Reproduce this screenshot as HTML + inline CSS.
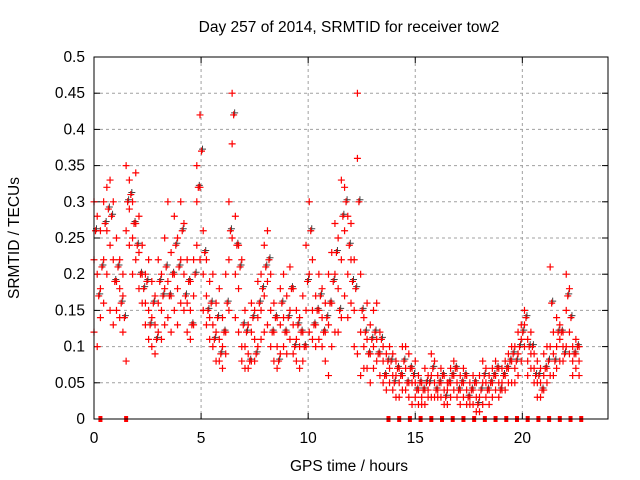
<!DOCTYPE html>
<html><head><meta charset="utf-8"><style>
body{margin:0;background:#fff;}
svg{display:block;font-family:"Liberation Sans",sans-serif;}
</style></head><body>
<svg id="chart" width="640" height="480"></svg>
<script>
const hours=[0,0.15,0.3,0.45,0.6,0.75,0.9,1.05,1.2,1.35,1.5,1.65,1.8,1.95,2.1,2.25,2.4,2.55,2.7,2.85,3,3.15,3.3,3.45,3.6,3.75,3.9,4.05,4.2,4.35,4.5,4.65,4.8,4.95,5.1,5.25,5.4,5.55,5.7,5.85,6,6.15,6.3,6.45,6.6,6.75,6.9,7.05,7.2,7.35,7.5,7.65,7.8,7.95,8.1,8.25,8.4,8.55,8.7,8.85,9,9.15,9.3,9.45,9.6,9.75,9.9,10.05,10.2,10.35,10.5,10.65,10.8,10.95,11.1,11.25,11.4,11.55,11.7,11.85,12,12.15,12.3,12.45,12.6,12.75,12.9,13.05,13.2,13.35,13.5,13.65,13.8,13.95,14.1,14.25,14.4,14.55,14.7,14.85,15,15.15,15.3,15.45,15.6,15.75,15.9,16.05,16.2,16.35,16.5,16.65,16.8,16.95,17.1,17.25,17.4,17.55,17.7,17.85,18,18.15,18.3,18.45,18.6,18.75,18.9,19.05,19.2,19.35,19.5,19.65,19.8,19.95,20.1,20.25,20.4,20.55,20.7,20.85,21,21.15,21.3,21.45,21.6,21.75,21.9,22.05,22.2,22.35,22.5,22.65];
const hoursB=[0.07,0.22,0.37,0.52,0.67,0.82,0.97,1.12,1.27,1.42,1.57,1.72,1.87,2.02,2.17,2.32,2.47,2.62,2.77,2.92,3.07,3.22,3.37,3.52,3.67,3.82,3.97,4.12,4.27,4.42,4.57,4.72,4.87,5.02,5.17,5.32,5.47,5.62,5.77,5.92,6.07,6.22,6.37,6.52,6.67,6.82,6.97,7.12,7.27,7.42,7.57,7.72,7.87,8.02,8.17,8.32,8.47,8.62,8.77,8.92,9.07,9.22,9.37,9.52,9.67,9.82,9.97,10.12,10.27,10.42,10.57,10.72,10.87,11.02,11.17,11.32,11.47,11.62,11.77,11.92,12.07,12.22,12.37,12.52,12.67,12.82,12.97,13.12,13.27,13.42,13.57,13.72,13.87,14.02,14.17,14.32,14.47,14.62,14.77,14.92,15.07,15.22,15.37,15.52,15.67,15.82,15.97,16.12,16.27,16.42,16.57,16.72,16.87,17.02,17.17,17.32,17.47,17.62,17.77,17.92,18.07,18.22,18.37,18.52,18.67,18.82,18.97,19.12,19.27,19.42,19.57,19.72,19.87,20.02,20.17,20.32,20.47,20.62,20.77,20.92,21.07,21.22,21.37,21.52,21.67,21.82,21.97,22.12,22.27,22.42,22.57];
const tecHigh=[0.3,0.28,0.26,0.3,0.32,0.33,0.3,0.25,0.22,0.2,0.35,0.33,0.3,0.34,0.28,0.24,0.2,0.22,0.19,0.17,0.22,0.2,0.25,0.3,0.23,0.28,0.25,0.3,0.27,0.22,0.19,0.22,0.35,0.42,0.26,0.22,0.19,0.2,0.16,0.18,0.14,0.2,0.3,0.45,0.28,0.24,0.22,0.15,0.13,0.16,0.15,0.19,0.2,0.24,0.26,0.2,0.16,0.14,0.18,0.2,0.17,0.21,0.18,0.15,0.14,0.17,0.24,0.3,0.22,0.17,0.2,0.18,0.16,0.2,0.23,0.27,0.25,0.33,0.32,0.28,0.27,0.22,0.45,0.2,0.14,0.16,0.13,0.15,0.16,0.12,0.1,0.09,0.1,0.09,0.08,0.07,0.1,0.1,0.09,0.07,0.08,0.06,0.05,0.07,0.06,0.09,0.08,0.06,0.07,0.06,0.05,0.07,0.08,0.07,0.06,0.07,0.06,0.05,0.06,0.05,0.06,0.08,0.07,0.06,0.07,0.08,0.07,0.07,0.08,0.09,0.1,0.1,0.12,0.13,0.15,0.11,0.12,0.09,0.08,0.07,0.09,0.1,0.21,0.12,0.14,0.13,0.12,0.2,0.18,0.1,0.11,0.1];
const tecMid=[0.22,0.2,0.18,0.22,0.26,0.24,0.22,0.19,0.18,0.17,0.26,0.29,0.25,0.27,0.23,0.2,0.16,0.15,0.14,0.13,0.16,0.15,0.18,0.19,0.17,0.2,0.18,0.22,0.2,0.16,0.15,0.17,0.3,0.32,0.2,0.17,0.14,0.13,0.12,0.11,0.1,0.12,0.22,0.38,0.2,0.18,0.1,0.1,0.09,0.12,0.11,0.14,0.15,0.17,0.19,0.15,0.12,0.1,0.13,0.14,0.12,0.15,0.13,0.11,0.1,0.12,0.15,0.2,0.15,0.13,0.15,0.14,0.12,0.13,0.16,0.2,0.18,0.22,0.26,0.2,0.22,0.15,0.36,0.12,0.1,0.11,0.09,0.1,0.11,0.09,0.08,0.06,0.07,0.06,0.06,0.05,0.06,0.07,0.05,0.05,0.05,0.04,0.03,0.04,0.04,0.06,0.05,0.04,0.05,0.04,0.04,0.05,0.06,0.05,0.04,0.05,0.04,0.03,0.04,0.03,0.03,0.05,0.05,0.04,0.05,0.06,0.05,0.05,0.06,0.07,0.08,0.07,0.09,0.11,0.13,0.08,0.09,0.07,0.05,0.05,0.06,0.07,0.1,0.09,0.1,0.11,0.1,0.15,0.12,0.08,0.09,0.08];
const tecLow=[0.12,0.1,0.14,0.16,0.2,0.15,0.13,0.15,0.14,0.12,0.08,0.24,0.2,0.22,0.18,0.16,0.13,0.11,0.1,0.09,0.12,0.11,0.13,0.14,0.12,0.15,0.13,0.16,0.15,0.12,0.11,0.13,0.24,0.22,0.15,0.13,0.11,0.1,0.08,0.08,0.07,0.09,0.15,0.25,0.14,0.12,0.08,0.07,0.07,0.08,0.08,0.1,0.11,0.12,0.13,0.1,0.08,0.07,0.09,0.1,0.09,0.11,0.09,0.08,0.07,0.08,0.1,0.12,0.11,0.1,0.11,0.1,0.08,0.06,0.1,0.12,0.12,0.14,0.17,0.14,0.16,0.1,0.09,0.06,0.07,0.07,0.05,0.07,0.08,0.06,0.05,0.04,0.05,0.04,0.03,0.03,0.04,0.04,0.03,0.02,0.03,0.02,0.02,0.02,0.03,0.03,0.03,0.03,0.03,0.02,0.02,0.03,0.04,0.03,0.02,0.03,0.02,0.02,0.02,0.01,0.01,0.02,0.03,0.02,0.03,0.04,0.03,0.04,0.04,0.05,0.05,0.05,0.06,0.08,0.1,0.06,0.07,0.05,0.03,0.03,0.04,0.05,0.06,0.06,0.07,0.08,0.08,0.1,0.09,0.06,0.07,0.06];
const tecExtra=[0.26,0.17,0.21,0.27,0.29,0.28,0.19,0.21,0.16,0.14,0.3,0.31,0.27,0.24,0.2,0.18,0.19,0.13,0.16,0.11,0.19,0.17,0.21,0.17,0.2,0.24,0.21,0.26,0.17,0.19,0.13,0.2,0.32,0.37,0.23,0.15,0.16,0.11,0.14,0.09,0.12,0.16,0.26,0.42,0.24,0.21,0.13,0.12,0.08,0.14,0.09,0.16,0.18,0.21,0.22,0.12,0.14,0.08,0.16,0.12,0.14,0.18,0.1,0.13,0.12,0.1,0.19,0.26,0.13,0.15,0.17,0.12,0.14,0.16,0.19,0.23,0.15,0.28,0.3,0.24,0.19,0.18,0.3,0.15,0.12,0.09,0.11,0.12,0.09,0.11,0.06,0.08,0.08,0.05,0.07,0.06,0.08,0.05,0.07,0.06,0.04,0.05,0.04,0.05,0.05,0.07,0.04,0.05,0.06,0.03,0.05,0.06,0.07,0.04,0.05,0.06,0.03,0.04,0.05,0.02,0.04,0.06,0.04,0.05,0.06,0.07,0.04,0.06,0.07,0.08,0.09,0.08,0.1,0.12,0.14,0.1,0.1,0.06,0.06,0.04,0.07,0.08,0.16,0.08,0.12,0.12,0.09,0.17,0.14,0.09,0.1];
const gapHours=[0.3,1.5,13.75,14.25,14.75,15.25,15.75,16.25,16.75,17.25,17.75,18.25,18.75,19.25,19.75,20.25,20.75,21.25,21.75,22.25,22.75];
const xTicks=[0,5,10,15,20];
const yTicks=[0,0.05,0.1,0.15,0.2,0.25,0.3,0.35,0.4,0.45,0.5];
const yTickLabels=["0","0.05","0.1","0.15","0.2","0.25","0.3","0.35","0.4","0.45","0.5"];

const L=94,R=608,T=57,B=419,XMAX=24,YMAX=0.5;
const sx=h=>L+h/XMAX*(R-L), sy=v=>B-v/YMAX*(B-T);
const svg=document.getElementById('chart');const NS='http://www.w3.org/2000/svg';
function mk(tag,attrs,parent){const e=document.createElementNS(NS,tag);for(const k in attrs)e.setAttribute(k,attrs[k]);(parent||svg).appendChild(e);return e;}
const grid=mk('g',{});


yTicks.forEach((v,i)=>{if(i>0&&i<yTicks.length-1){mk('line',{x1:L,x2:R,y1:sy(v),y2:sy(v),stroke:'#a0a0a0','stroke-dasharray':'3,3'},grid);}
 const t=mk('text',{x:L-9,y:sy(v)+5,'text-anchor':'end','font-size':'15.5',fill:'#000'});t.textContent=yTickLabels[i];
 
 
 mk('line',{x1:L,x2:L+6,y1:sy(v),y2:sy(v),stroke:'#000'});mk('line',{x1:R,x2:R-6,y1:sy(v),y2:sy(v),stroke:'#000'});});
xTicks.forEach(h=>{if(h>0)mk('line',{x1:sx(h),x2:sx(h),y1:T,y2:B,stroke:'#a0a0a0','stroke-dasharray':'3,3'},grid);
 const t=mk('text',{x:sx(h),y:B+24,'text-anchor':'middle','font-size':'15.5',fill:'#000'});t.textContent=h;
 
 
 mk('line',{x1:sx(h),x2:sx(h),y1:B,y2:B-6,stroke:'#000'});mk('line',{x1:sx(h),x2:sx(h),y1:T,y2:T+6,stroke:'#000'});});
const gray=mk('g',{stroke:'#404040','stroke-width':'1'});


tecExtra.forEach((v,i)=>{const x=sx(hoursB[i])+1,y=sy(v)-2;
 const p=mk('path',{d:`M${x-3.5},${y}h7M${x},${y-3.5}v7`},gray);
 
 });
const pts=mk('g',{stroke:'#ff0000','stroke-width':'1.2'});


[tecHigh,tecMid,tecLow].forEach(arr=>{arr.forEach((v,i)=>{if(v==null)return;const x=sx(hours[i]),y=sy(v);
 const p=mk('path',{d:`M${x-3.5},${y}h7M${x},${y-3.5}v7`},pts);
 
 });});
tecExtra.forEach((v,i)=>{const x=sx(hoursB[i]),y=sy(v);
 const p=mk('path',{d:`M${x-3.5},${y}h7M${x},${y-3.5}v7`},pts);
 
 });
const gaps=mk('g',{fill:'#ff0000'});


gapHours.forEach(h=>{const r=mk('rect',{x:sx(h)-2,y:B-3,width:4,height:6},gaps);
 
 });
const fr=mk('rect',{x:L,y:T,width:R-L,height:B-T,fill:'none',stroke:'#000','stroke-width':'1'});


const title=mk('text',{x:349,y:32,'text-anchor':'middle','font-size':'15.5'});title.textContent='Day 257 of 2014, SRMTID for receiver tow2';


const xl=mk('text',{x:349,y:471,'text-anchor':'middle','font-size':'15.5'});xl.textContent='GPS time / hours';


const yl=mk('text',{x:0,y:0,'text-anchor':'middle','font-size':'15.5',transform:'translate(19,238) rotate(-90)'});yl.textContent='SRMTID / TECUs';


</script>
</body></html>
